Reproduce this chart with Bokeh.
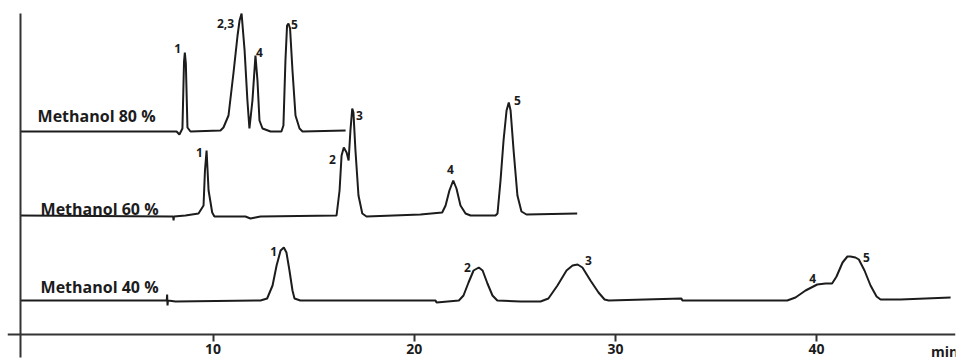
from bokeh.plotting import figure
from bokeh.models import Range1d, LinearAxis, FixedTicker, ColumnDataSource, Label
from bokeh.core.properties import value
from bokeh.embed import file_html
from bokeh.resources import INLINE

# ---- data: retention time (min) and signal (a.u., above each trace's own baseline)
T80 = [0.43, 8.19, 8.33, 8.48, 8.56, 8.60, 8.65, 8.73, 8.88, 10.37, 10.52, 10.77, 11.02, 11.22, 11.32,
       11.42, 11.57, 11.71, 11.81, 11.96, 12.11, 12.21, 12.31, 12.46, 12.86, 13.40, 13.50, 13.60,
       13.68, 13.75, 13.83, 13.95, 14.10, 14.30, 14.45, 16.59]
S80 = [0, 0, -3, 3, 70, 79, 68, 4, 0, 1, 4, 16, 59, 96, 111,
       118, 81, 31, 3, 31, 76, 51, 11, 3, 0, 0, 6, 71,
       106, 108, 103, 61, 16, 3, 0, 1]

T60 = [0.43, 7.89, 8.02, 8.04, 8.06, 8.63, 9.28, 9.53, 9.60, 9.68, 9.78, 9.96, 10.07, 11.61, 11.86,
       12.11, 12.36, 16.14, 16.29, 16.39, 16.50, 16.64, 16.74, 16.83, 16.92, 16.98, 17.08, 17.23,
       17.42, 17.63, 20.31, 21.39, 21.56, 21.75, 21.94, 22.10, 22.30, 22.55, 22.80, 24.04, 24.14,
       24.29, 24.44, 24.59, 24.70, 24.79, 24.94, 25.13, 25.33, 25.58, 28.10]
S60 = [1, 0, 0, -4, 0, 1, 3, 11, 46, 66, 26, 4, 0, 0, -2,
       -1, 0, 1, 26, 61, 69, 64, 56, 86, 108, 104, 66, 21,
       3, 0, 2, 4, 11, 26, 36, 28, 11, 3, 1, 1, 3,
       36, 76, 106, 114, 106, 66, 21, 5, 2, 3]

T40 = [0.43, 7.64, 7.70, 7.72, 7.74, 7.76, 8.14, 12.36, 12.69, 12.96, 13.16, 13.36, 13.52, 13.65,
       13.80, 13.95, 14.05, 14.34, 21.06, 21.11, 22.22, 22.45, 22.70, 22.95, 23.21, 23.40, 23.64,
       23.89, 24.13, 25.28, 26.28, 26.67, 27.12, 27.57, 27.87, 28.12, 28.36, 28.76, 29.16, 29.46,
       29.67, 33.28, 33.33, 38.54, 38.95, 39.45, 40.03, 40.44, 40.77, 40.99, 41.29, 41.53, 41.68,
       41.93, 42.10, 42.38, 42.68, 42.98, 43.18, 44.17, 46.66]
S40 = [0, 0, 0, 6, -5, 0, -1, 0, 2, 15, 35, 50, 53, 48,
       30, 10, 2, 0, 0, -2, 0, 5, 18, 30, 33, 30, 17,
       5, 0, -1, -1, 2, 15, 30, 35, 36, 33, 20, 8, 1,
       0, 2, 0, 0, 3, 10, 16, 17, 17, 24, 38, 44, 44,
       43, 41, 30, 15, 4, 1, 1, 3]

TRACE_NAMES = ["Methanol 80 %", "Methanol 60 %", "Methanol 40 %"]
TRACE_OFFSETS = [203, 118, 34]

PEAK80_TEXT = ["1", "2,3", "4", "5"]
PEAK80_T = [8.24, 10.62, 12.31, 14.05]
PEAK80_S = [83, 108, 79, 107]

PEAK60_TEXT = ["1", "2", "3", "4", "5"]
PEAK60_T = [9.33, 15.94, 17.28, 21.80, 25.13]
PEAK60_S = [64, 57, 101, 47, 116]

PEAK40_TEXT = ["1", "2", "3", "4", "5"]
PEAK40_T = [13.01, 22.65, 28.66, 39.80, 42.48]
PEAK40_S = [49, 33, 40, 22, 43]

TIME_TICKS = [10, 20, 30, 40]
TIME_UNIT = "min"

# ---- figure
INK = "#1c1c1c"
AXIS = "#333333"
FONT = value("Open Sans")

p = figure(width=963, height=362,
           x_range=Range1d(-0.214, 46.903), y_range=Range1d(-28, 334),
           x_axis_type=None, y_axis_type=None,
           output_backend="svg", toolbar_location=None,
           min_border_left=7, min_border_right=8, min_border_top=0, min_border_bottom=0,
           outline_line_color=None,
           background_fill_color="white", border_fill_color="white")

xaxis = LinearAxis(fixed_location=0, ticker=FixedTicker(ticks=TIME_TICKS))
xaxis.axis_line_color = AXIS
xaxis.axis_line_width = 2
xaxis.major_tick_line_color = AXIS
xaxis.major_tick_line_width = 2
xaxis.major_tick_in = 0
xaxis.major_tick_out = 7
xaxis.minor_tick_line_color = None
xaxis.major_label_standoff = 2
xaxis.major_label_text_font = "Open Sans"
xaxis.major_label_text_font_style = "bold"
xaxis.major_label_text_font_size = "14px"
xaxis.major_label_text_color = INK
p.add_layout(xaxis, "below")

yaxis = LinearAxis(fixed_location=0.43, bounds=(-23, 321), ticker=FixedTicker(ticks=[]))
yaxis.axis_line_color = AXIS
yaxis.axis_line_width = 2
yaxis.major_tick_line_color = None
yaxis.minor_tick_line_color = None
yaxis.major_label_text_font_size = "0px"
p.add_layout(yaxis, "left")

traces = [(T80, S80), (T60, S60), (T40, S40)]
for (t, s), off in zip(traces, TRACE_OFFSETS):
    src = ColumnDataSource(dict(t=t, y=[v + off for v in s]))
    p.line("t", "y", source=src, line_color=INK, line_width=2)

name_src = ColumnDataSource(dict(
    t=[1.28, 1.43, 1.43],
    y=[TRACE_OFFSETS[0] + 16, TRACE_OFFSETS[1] + 8, TRACE_OFFSETS[2] + 14],
    text=TRACE_NAMES))
p.text("t", "y", text="text", source=name_src, text_font=FONT, text_font_style="bold",
       text_font_size="16px", text_align="left", text_baseline="middle", text_color=INK)

for txt, tt, ss, off in [(PEAK80_TEXT, PEAK80_T, PEAK80_S, TRACE_OFFSETS[0]),
                         (PEAK60_TEXT, PEAK60_T, PEAK60_S, TRACE_OFFSETS[1]),
                         (PEAK40_TEXT, PEAK40_T, PEAK40_S, TRACE_OFFSETS[2])]:
    src = ColumnDataSource(dict(t=tt, y=[v + off for v in ss], text=txt))
    p.text("t", "y", text="text", source=src, text_font=FONT, text_font_style="bold",
           text_font_size="12px", text_align="center", text_baseline="middle", text_color=INK)

p.add_layout(Label(x=46.36, y=-17, text=TIME_UNIT, text_font="Open Sans", text_font_style="bold",
                   text_font_size="14px", text_align="center", text_baseline="middle",
                   text_color=INK))

open("out.html", "w").write(file_html(p, INLINE))
